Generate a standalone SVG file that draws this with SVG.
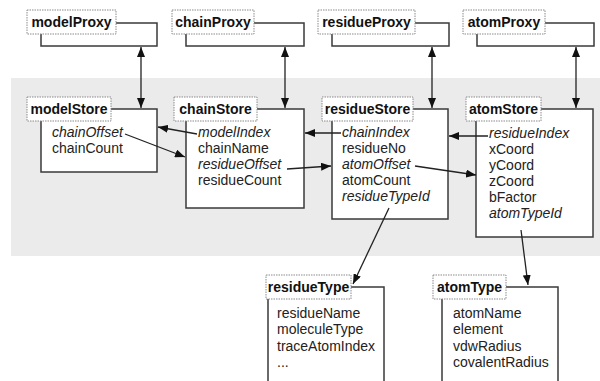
<svg xmlns="http://www.w3.org/2000/svg" width="600" height="381" viewBox="0 0 600 381">
  <style>
    .box { fill: #fff; stroke: #3a3a3a; stroke-width: 1.5; }
    .tag { fill: #fff; stroke: #8a8a8a; stroke-width: 1; stroke-dasharray: 1.5 1; }
    .tagtxt { font-family: "Liberation Sans", Arial, sans-serif; font-size: 14px; font-weight: bold; fill: #111; text-anchor: middle; }
    .f { font-family: "Liberation Sans", Arial, sans-serif; font-size: 14px; fill: #222; }
    .i { font-style: italic; }
    .link { stroke: #222; stroke-width: 1.3; fill: none; }
  </style>
  <defs>
    <marker id="ah" viewBox="0 0 10 8" refX="10" refY="4" markerWidth="10" markerHeight="8" markerUnits="userSpaceOnUse" orient="auto-start-reverse">
      <path d="M0,0 L10,4 L0,8 z" fill="#111"/>
    </marker>
  </defs>

  <rect width="600" height="381" fill="#fff"/>
  <!-- store layer band -->
  <rect x="11" y="78" width="589" height="178" fill="#ebebeb"/>

  <!-- proxies -->
  <g id="modelProxy">
    <rect class="box" x="41" y="23" width="116" height="23"/>
    <rect class="tag" x="27" y="10" width="89" height="24"/>
    <text class="tagtxt" x="71.5" y="27">modelProxy</text>
  </g>
  <g id="chainProxy">
    <rect class="box" x="186" y="23" width="118" height="23"/>
    <rect class="tag" x="172" y="10" width="82" height="24"/>
    <text class="tagtxt" x="213" y="27">chainProxy</text>
  </g>
  <g id="residueProxy">
    <rect class="box" x="332" y="23" width="117" height="23"/>
    <rect class="tag" x="318" y="10" width="97" height="24"/>
    <text class="tagtxt" x="366.5" y="27">residueProxy</text>
  </g>
  <g id="atomProxy">
    <rect class="box" x="477" y="23" width="117" height="23"/>
    <rect class="tag" x="463" y="10" width="82" height="24"/>
    <text class="tagtxt" x="504" y="27">atomProxy</text>
  </g>

  <!-- stores -->
  <g id="modelStore">
    <rect class="box" x="41" y="109" width="116" height="63"/>
    <rect class="tag" x="27" y="97" width="84" height="24"/>
    <text class="tagtxt" x="69" y="114">modelStore</text>
    <text class="f i" x="52" y="137">chainOffset</text>
    <text class="f" x="52" y="153">chainCount</text>
  </g>
  <g id="chainStore">
    <rect class="box" x="186" y="109" width="118" height="99"/>
    <rect class="tag" x="174" y="97" width="83" height="24"/>
    <text class="tagtxt" x="215.5" y="114">chainStore</text>
    <text class="f i" x="198" y="137">modelIndex</text>
    <text class="f" x="198" y="153">chainName</text>
    <text class="f i" x="198" y="169">residueOffset</text>
    <text class="f" x="198" y="185">residueCount</text>
  </g>
  <g id="residueStore">
    <rect class="box" x="332" y="109" width="116" height="110"/>
    <rect class="tag" x="322" y="97" width="91" height="24"/>
    <text class="tagtxt" x="367.5" y="114">residueStore</text>
    <text class="f i" x="342" y="137">chainIndex</text>
    <text class="f" x="342" y="153">residueNo</text>
    <text class="f i" x="342" y="169">atomOffset</text>
    <text class="f" x="342" y="185">atomCount</text>
    <text class="f i" x="342" y="201">residueTypeId</text>
  </g>
  <g id="atomStore">
    <rect class="box" x="476" y="109" width="117" height="128"/>
    <rect class="tag" x="466" y="97" width="75" height="24"/>
    <text class="tagtxt" x="503.5" y="114">atomStore</text>
    <text class="f i" x="489" y="138">residueIndex</text>
    <text class="f" x="489" y="154">xCoord</text>
    <text class="f" x="489" y="170">yCoord</text>
    <text class="f" x="489" y="186">zCoord</text>
    <text class="f" x="489" y="202">bFactor</text>
    <text class="f i" x="489" y="218">atomTypeId</text>
  </g>

  <!-- type tables -->
  <g id="residueType">
    <rect class="box" x="268" y="287" width="116" height="110"/>
    <rect class="tag" x="266" y="275" width="85" height="24"/>
    <text class="tagtxt" x="308.5" y="292">residueType</text>
    <text class="f" x="277" y="318">residueName</text>
    <text class="f" x="277" y="334">moleculeType</text>
    <text class="f" x="277" y="351">traceAtomIndex</text>
    <text class="f" x="277" y="367">...</text>
  </g>
  <g id="atomType">
    <rect class="box" x="442" y="287" width="116" height="110"/>
    <rect class="tag" x="433" y="275" width="73" height="24"/>
    <text class="tagtxt" x="469.5" y="292">atomType</text>
    <text class="f" x="453" y="318">atomName</text>
    <text class="f" x="453" y="334">element</text>
    <text class="f" x="453" y="351">vdwRadius</text>
    <text class="f" x="453" y="367">covalentRadius</text>
  </g>

  <!-- connectors -->
  <g id="connectors">
    <line class="link" x1="141" y1="47" x2="141" y2="108" marker-start="url(#ah)" marker-end="url(#ah)"/>
    <line class="link" x1="285" y1="47" x2="285" y2="108" marker-start="url(#ah)" marker-end="url(#ah)"/>
    <line class="link" x1="432" y1="47" x2="432" y2="108" marker-start="url(#ah)" marker-end="url(#ah)"/>
    <line class="link" x1="576" y1="47" x2="576" y2="108" marker-start="url(#ah)" marker-end="url(#ah)"/>

    <line class="link" x1="197" y1="134" x2="158" y2="127" marker-end="url(#ah)"/>
    <line class="link" x1="125" y1="134" x2="185" y2="157" marker-end="url(#ah)"/>
    <line class="link" x1="287" y1="169" x2="331" y2="166" marker-end="url(#ah)"/>
    <line class="link" x1="341" y1="133" x2="305" y2="133" marker-end="url(#ah)"/>
    <line class="link" x1="488" y1="136" x2="449" y2="136" marker-end="url(#ah)"/>
    <line class="link" x1="415" y1="166" x2="476" y2="175" marker-end="url(#ah)"/>
    <line class="link" x1="389" y1="208" x2="353" y2="284" marker-end="url(#ah)"/>
    <line class="link" x1="521" y1="230" x2="528" y2="285" marker-end="url(#ah)"/>
  </g>
</svg>
